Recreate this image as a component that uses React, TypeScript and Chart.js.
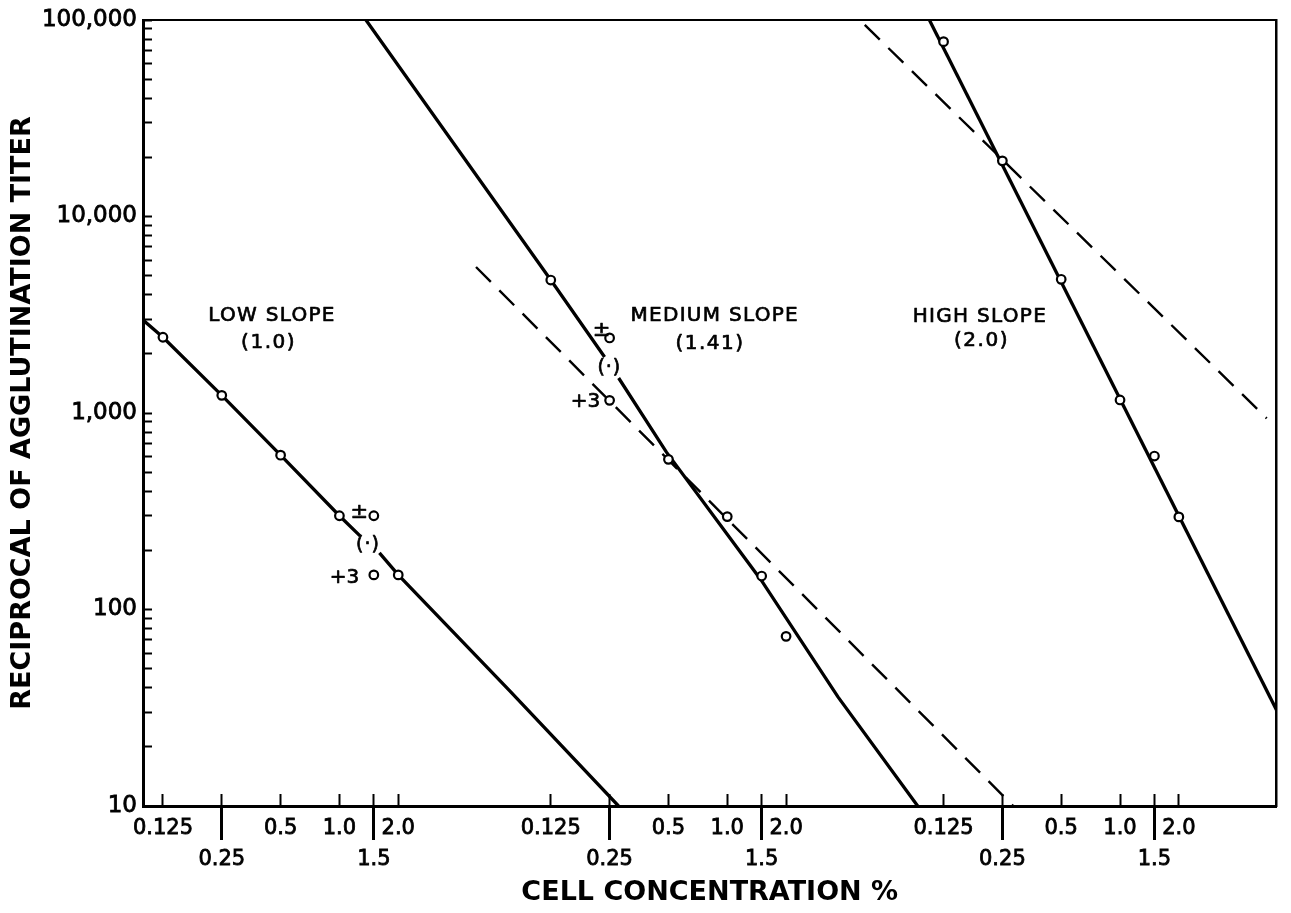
import React, { useEffect, useRef } from 'react';
import { Chart, registerables } from 'chart.js';

Chart.register(...registerables);

const FONT = "'DejaVu Sans', 'Liberation Sans', sans-serif";

// x axis: three panels, each measured in doubling steps of cell concentration
const CONC_TICKS = [0.125, 0.25, 0.5, 1.0, 1.5, 2.0];
const CONC_LABELS = ['0.125', '0.25', '0.5', '1.0', '1.5', '2.0'];
const LOWER_ROW_LABELS = ['0.25', '1.5'];
const PANEL_SHIFT = [0, 6.593, 13.27];
const X_MIN = -0.339;
const X_MAX = 18.93;

// y axis (log)
const Y_MIN = 10;
const Y_MAX = 100000;
const Y_DECADE_LABELS = ['10', '100', '1,000', '10,000', '100,000'];

// LOW SLOPE (1.0)
const lowConc = [0.125, 0.25, 0.5, 1.0, 2.0];
const lowTiter = [2430, 1230, 610, 300, 150];
const lowExtraConc = [1.5, 1.5];
const lowExtraTiter = [300, 150];
const lowLineConc = [0.0989, 0.125, 0.25, 0.5, 1.0, 1.275, null, 1.602, 2.0, 7.36, 26.8];
const lowLineTiter = [2970, 2430, 1230, 610, 300, 237, null, 194, 150, 39, 10];

// MEDIUM SLOPE (1.41)
const medConc = [0.125, 0.5, 1.0, 1.5, 2.0];
const medTiter = [4750, 581, 297, 148, 73];
const medExtraConc = [0.25, 0.25];
const medExtraTiter = [2410, 1160];
const medLineConc = [0.01416, 0.125, 0.2357, null, 0.2781, 0.4884, 1.492, 3.686, 9.43];
const medLineTiter = [100000, 4750, 1928, null, 1507, 632, 141, 35.9, 10];
const medDashConc = [0.0518, 29.1];
const medDashTiter = [5535, 10];

// HIGH SLOPE (2.0)
const highConc = [0.125, 0.25, 0.5, 1.0, 1.5, 2.0];
const highTiter = [77600, 19200, 4790, 1165, 604, 296];
const highLineConc = [0.1058, 6.32];
const highLineTiter = [100000, 30.8];
const highDashConc = [0.0494, 5.63];
const highDashTiter = [94400, 940];

// text notes placed in data space (panel, concentration, titer)
const NOTES = [
  { text: 'LOW SLOPE', panel: 0, conc: 0.452, titer: 3120, size: 20, spacing: 1.3 },
  { text: '(1.0)', panel: 0, conc: 0.434, titer: 2270, size: 20, spacing: 1.5 },
  { text: 'MEDIUM SLOPE', panel: 1, conc: 0.863, titer: 3120, size: 20, spacing: 1.3 },
  { text: '(1.41)', panel: 1, conc: 0.816, titer: 2245, size: 20, spacing: 1.5 },
  { text: 'HIGH SLOPE', panel: 2, conc: 0.192, titer: 3100, size: 20, spacing: 1.3 },
  { text: '(2.0)', panel: 2, conc: 0.1955, titer: 2323, size: 20, spacing: 1.5 },
  { text: '±', panel: 0, conc: 1.265, titer: 310, size: 21, spacing: 0 },
  { text: '(·)', panel: 0, conc: 1.401, titer: 213, size: 19, spacing: 1 },
  { text: '+3', panel: 0, conc: 1.061, titer: 145, size: 20, spacing: 0 },
  { text: '±', panel: 1, conc: 0.2277, titer: 2640, size: 21, spacing: 0 },
  { text: '(·)', panel: 1, conc: 0.2492, titer: 1694, size: 19, spacing: 1 },
  { text: '+3', panel: 1, conc: 0.1879, titer: 1143, size: 20, spacing: 0 },
];

const pos = (panel: number, conc: number) => PANEL_SHIFT[panel] + Math.log2(conc / 0.125);

const toPoints = (panel: number, concs: (number | null)[], titers: (number | null)[]) =>
  concs.map((c, i) => {
    if (c === null || titers[i] === null) {
      const prev = concs[i - 1] as number;
      return { x: pos(panel, prev), y: null as any };
    }
    return { x: pos(panel, c), y: titers[i] as number };
  });

const X_TICK_VALUES: number[] = [];
const X_TICK_TEXT: (string | string[])[] = [];
const LONG_TICK_VALUES: number[] = [];
PANEL_SHIFT.forEach((_, p) => {
  CONC_TICKS.forEach((c, j) => {
    X_TICK_VALUES.push(pos(p, c));
    const lbl = CONC_LABELS[j];
    if (LOWER_ROW_LABELS.includes(lbl)) {
      X_TICK_TEXT.push(['', lbl]);
      LONG_TICK_VALUES.push(pos(p, c));
    } else {
      X_TICK_TEXT.push(lbl);
    }
  });
});

const Y_TICK_VALUES: number[] = [];
for (let e = 1; e <= 5; e++) {
  for (let m = 1; m <= 9; m++) {
    const v = m * Math.pow(10, e);
    if (v <= Y_MAX) Y_TICK_VALUES.push(v);
  }
}

const notesPlugin = {
  id: 'slopeNotes',
  afterDatasetsDraw(chart: any) {
    const { ctx, scales } = chart;
    ctx.save();
    ctx.fillStyle = '#000';
    ctx.strokeStyle = '#000';
    ctx.lineWidth = 0.7;
    ctx.lineJoin = 'round';
    ctx.textAlign = 'center';
    ctx.textBaseline = 'middle';
    for (const n of NOTES) {
      ctx.font = `${n.size}px ${FONT}`;
      (ctx as any).letterSpacing = `${n.spacing}px`;
      const x = scales.x.getPixelForValue(pos(n.panel, n.conc));
      const y = scales.y.getPixelForValue(n.titer);
      ctx.fillText(n.text, x, y);
      ctx.strokeText(n.text, x, y);
    }
    ctx.restore();
  },
};

const lineDs = (data: any[], dashed: boolean) => ({
  type: 'line' as const,
  data,
  borderColor: '#000',
  borderWidth: dashed ? 2.4 : 3.3,
  borderDash: dashed ? [21, 12] : [],
  pointRadius: 0,
  fill: false,
  tension: 0,
  spanGaps: false,
  order: 1,
  xAxisID: 'x',
  yAxisID: 'y',
});

const pointDs = (data: any[]) => ({
  type: 'scatter' as const,
  data,
  showLine: false,
  pointRadius: 4.3,
  pointBorderWidth: 2.2,
  pointBorderColor: '#000',
  pointBackgroundColor: '#fff',
  order: 0,
  xAxisID: 'x',
  yAxisID: 'y',
});

const noEdgePadding = (s: any) => {
  s.paddingTop = 0;
  s.paddingBottom = 0;
  s.paddingLeft = 0;
  s.paddingRight = 0;
};

export default function App() {
  const canvasRef = useRef<HTMLCanvasElement | null>(null);

  useEffect(() => {
    if (!canvasRef.current) return;
    const datasets: any[] = [
      pointDs(toPoints(0, lowConc, lowTiter)),
      pointDs(toPoints(0, lowExtraConc, lowExtraTiter)),
      pointDs(toPoints(1, medConc, medTiter)),
      pointDs(toPoints(1, medExtraConc, medExtraTiter)),
      pointDs(toPoints(2, highConc, highTiter)),
      lineDs(toPoints(0, lowLineConc, lowLineTiter), false),
      lineDs(toPoints(1, medLineConc, medLineTiter), false),
      lineDs(toPoints(1, medDashConc, medDashTiter), true),
      lineDs(toPoints(2, highLineConc, highLineTiter), false),
      lineDs(toPoints(2, highDashConc, highDashTiter), true),
    ];

    const chart = new Chart(canvasRef.current, {
      type: 'scatter',
      data: { datasets },
      options: {
        animation: false,
        responsive: true,
        maintainAspectRatio: false,
        events: [],
        layout: { padding: { left: 0, right: 3, top: 12, bottom: 0 } },
        plugins: {
          legend: { display: false },
          tooltip: { enabled: false },
          title: { display: false },
        },
        scales: {
          x: {
            type: 'linear',
            axis: 'x',
            position: 'bottom',
            min: X_MIN,
            max: X_MAX,
            afterBuildTicks: (s: any) => {
              s.ticks = X_TICK_VALUES.map((v) => ({ value: v }));
            },
            afterFit: (s: any) => {
              s.height = 99;
              noEdgePadding(s);
            },
            ticks: {
              autoSkip: false,
              maxRotation: 0,
              minRotation: 0,
              padding: 19.5,
              color: '#000',
              textStrokeColor: '#000',
              textStrokeWidth: 0.8,
              font: { family: FONT, size: 21, lineHeight: 31 / 21 },
              callback: (_v: any, i: number) => X_TICK_TEXT[i],
            },
            grid: {
              drawOnChartArea: false,
              drawTicks: true,
              tickLength: -12,
              tickWidth: 2,
              tickColor: '#000',
            },
            border: { display: true, color: '#000', width: 3 },
            title: {
              display: true,
              text: 'CELL CONCENTRATION %',
              color: '#000',
              font: { family: FONT, size: 27, weight: 'bold', lineHeight: 0.9 },
              padding: { top: 0, bottom: 0 },
            },
          },
          y: {
            type: 'logarithmic',
            axis: 'y',
            position: 'left',
            min: Y_MIN,
            max: Y_MAX,
            afterBuildTicks: (s: any) => {
              s.ticks = Y_TICK_VALUES.map((v) => ({ value: v }));
            },
            afterFit: (s: any) => {
              s.width = 135;
              noEdgePadding(s);
            },
            ticks: {
              autoSkip: false,
              padding: 15,
              color: '#000',
              textStrokeColor: '#000',
              textStrokeWidth: 0.8,
              font: { family: FONT, size: 23, lineHeight: 1 },
              callback: (v: any) => {
                const e = Math.log10(Number(v));
                if (Math.abs(e - Math.round(e)) < 1e-9) return Y_DECADE_LABELS[Math.round(e) - 1];
                return '';
              },
            },
            grid: {
              drawOnChartArea: false,
              drawTicks: true,
              tickLength: -9,
              tickWidth: 2,
              tickColor: '#000',
            },
            border: { display: true, color: '#000', width: 3 },
            title: {
              display: true,
              text: 'RECIPROCAL OF AGGLUTINATION TITER',
              color: '#000',
              font: { family: FONT, size: 27, weight: 'bold', lineHeight: 1.1 },
              padding: { top: 0, bottom: 0 },
            },
          },
          xl: {
            type: 'linear',
            axis: 'x',
            position: { y: Y_MIN } as any,
            min: X_MIN,
            max: X_MAX,
            afterBuildTicks: (s: any) => {
              s.ticks = LONG_TICK_VALUES.map((v) => ({ value: v }));
            },
            afterFit: (s: any) => {
              s.height = 0;
              noEdgePadding(s);
            },
            ticks: { display: false },
            grid: {
              drawOnChartArea: false,
              drawTicks: true,
              tickLength: 34,
              tickWidth: 3,
              tickColor: '#000',
            },
            border: { display: false },
          },
          x2: {
            type: 'linear',
            axis: 'x',
            position: 'top',
            min: X_MIN,
            max: X_MAX,
            afterFit: (s: any) => {
              s.height = 0;
              noEdgePadding(s);
            },
            ticks: { display: false },
            grid: { drawOnChartArea: false, drawTicks: false },
            border: { display: true, color: '#000', width: 2 },
          },
          y2: {
            type: 'logarithmic',
            axis: 'y',
            position: 'right',
            min: Y_MIN,
            max: Y_MAX,
            afterFit: (s: any) => {
              s.width = 0;
              noEdgePadding(s);
            },
            ticks: { display: false },
            grid: { drawOnChartArea: false, drawTicks: false },
            border: { display: true, color: '#000', width: 2.5 },
          },
        },
      } as any,
      plugins: [notesPlugin],
    });

    return () => chart.destroy();
  }, []);

  return (
    <div style={{ position: 'relative', width: '1275px', height: '897px' }}>
      <canvas ref={canvasRef} />
    </div>
  );
}
